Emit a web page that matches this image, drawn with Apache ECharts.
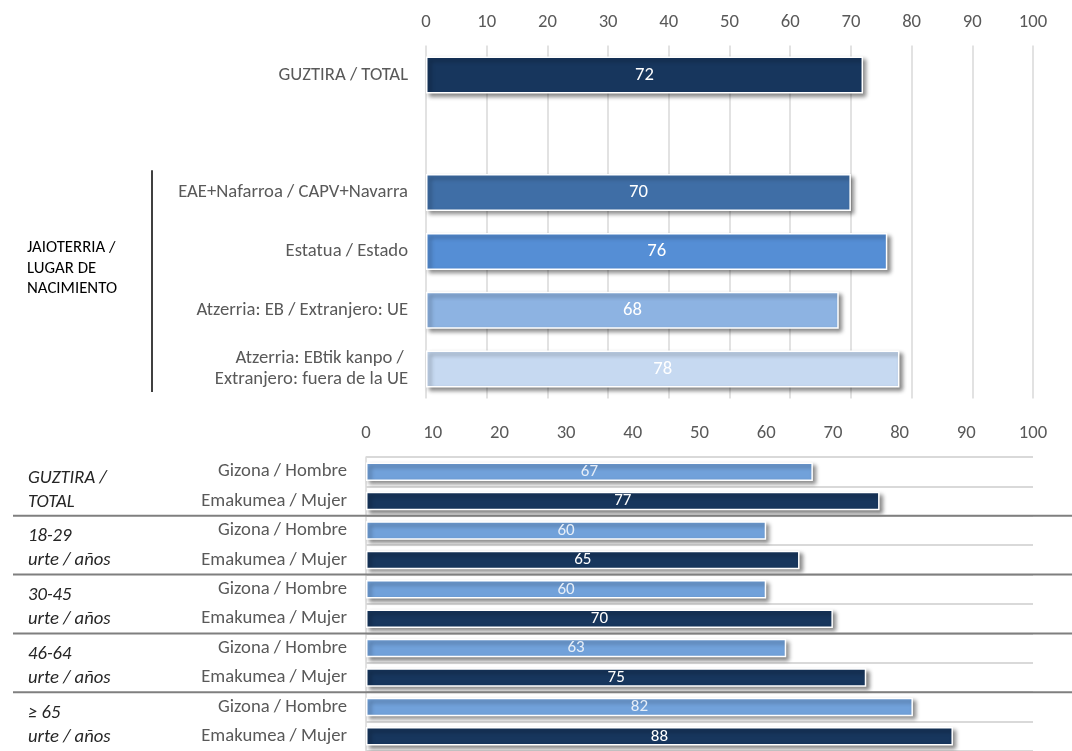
<!DOCTYPE html>
<html>
<head>
<meta charset="utf-8">
<script src="https://cdn.jsdelivr.net/npm/echarts@6/dist/echarts.min.js"></script>
<style>
html,body{margin:0;padding:0;background:#fff;}
#chart{width:1072px;height:751px;}
</style>
</head>
<body>
<div id="chart"></div>
<script>
// ---- data ----
const axisTicks = [0, 10, 20, 30, 40, 50, 60, 70, 80, 90, 100];
const topCategories = ['GUZTIRA / TOTAL', '', 'EAE+Nafarroa / CAPV+Navarra', 'Estatua / Estado', 'Atzerria: EB / Extranjero: UE', 'Atzerria: EBtik kanpo / \nExtranjero: fuera de la UE'];
const topValues = [72, null, 70, 76, 68, 78];
const topGroupLabel = 'JAIOTERRIA /\nLUGAR DE\nNACIMIENTO';
const ageGroups = ['GUZTIRA /\nTOTAL', '18-29\nurte / años', '30-45\nurte / años', '46-64\nurte / años', '≥ 65\nurte / años'];
const genders = ['Gizona / Hombre', 'Emakumea / Mujer'];
const maleValues = [67, 60, 60, 63, 82];
const femaleValues = [77, 65, 70, 75, 88];

// ---- styles ----
const topColors = ['#17365d', '#17365d', '#3f6ea6', '#558ed5', '#8db3e2', '#c6d9f1'];
const maleColor = '#71a1da';
const femaleColor = '#17365d';
const FONT = 'Carlito, Lato, sans-serif';
const FS = 18.67;

const bottomCategories = [];
const bottomData = [];
ageGroups.forEach((g, i) => {
  bottomCategories.push(genders[0]);
  bottomCategories.push(genders[1]);
  bottomData.push({ value: maleValues[i], itemStyle: { color: maleColor }, label: { color: '#e6eef8' } });
  bottomData.push({ value: femaleValues[i], itemStyle: { color: femaleColor } });
});

const barStyle = {
  borderColor: '#ffffff',
  borderWidth: 1.5,
  shadowColor: 'rgba(0,0,0,0.45)',
  shadowBlur: 4,
  shadowOffsetX: 3,
  shadowOffsetY: 3
};

const chart = echarts.init(document.getElementById('chart'), null, { renderer: 'canvas' });
const option = {
  animation: false,
  backgroundColor: '#ffffff',
  textStyle: { fontFamily: FONT },
  grid: [
    { left: 426, right: 39, top: 45.5, height: 353 },
    { left: 366, right: 39, top: 457, height: 300 }
  ],
  xAxis: [
    {
      gridIndex: 0, type: 'value', position: 'top', min: 0, max: 100, interval: 10,
      axisLine: { show: false }, axisTick: { show: false },
      axisLabel: { color: '#595959', fontSize: FS, fontFamily: FONT, margin: 14 },
      splitLine: { show: true, lineStyle: { color: '#d9d9d9', width: 1.5 } }
    },
    {
      gridIndex: 1, type: 'value', position: 'top', min: 0, max: 100, interval: 10,
      axisLine: { show: false }, axisTick: { show: false },
      axisLabel: { color: '#595959', fontSize: FS, fontFamily: FONT, margin: 14 },
      splitLine: { show: false }
    }
  ],
  yAxis: [
    {
      gridIndex: 0, type: 'category', inverse: true, data: topCategories,
      axisLine: { show: false }, axisTick: { show: false },
      axisLabel: { color: '#595959', fontSize: FS, fontFamily: FONT, margin: 18, lineHeight: 21, align: 'right' },
      splitLine: { show: false }
    },
    {
      gridIndex: 1, type: 'category', inverse: true, data: bottomCategories,
      axisLine: { show: true, lineStyle: { color: '#d9d9d9', width: 1.5 } }, axisTick: { show: false },
      axisLabel: { color: '#595959', fontSize: FS, fontFamily: FONT, margin: 19, padding: [2, 0, 0, 0] },
      splitLine: { show: true, lineStyle: { color: '#d9d9d9', width: 2 } }
    }
  ],
  series: [
    {
      type: 'bar', xAxisIndex: 0, yAxisIndex: 0, barWidth: '63%',
      data: topValues.map((v, i) => ({ value: v, itemStyle: { color: topColors[i] } })),
      itemStyle: barStyle,
      label: { show: true, position: 'inside', color: '#ffffff', fontSize: FS, fontFamily: FONT }
    },
    {
      type: 'bar', xAxisIndex: 1, yAxisIndex: 1, barWidth: '63%',
      data: bottomData,
      itemStyle: barStyle,
      label: { show: true, position: 'inside', color: '#ffffff', fontSize: 17, fontFamily: FONT }
    }
  ]
};
chart.setOption(option);

// ---- decorations positioned from the axes ----
const c0 = chart.convertToPixel({ yAxisIndex: 0 }, 0);
const c1 = chart.convertToPixel({ yAxisIndex: 0 }, 1);
const topBand = c1 - c0;
const gStart = chart.convertToPixel({ yAxisIndex: 0 }, 2);
const gEnd = chart.convertToPixel({ yAxisIndex: 0 }, 5);

const b0 = chart.convertToPixel({ yAxisIndex: 1 }, 0);
const b1 = chart.convertToPixel({ yAxisIndex: 1 }, 1);
const band = b1 - b0;

const graphics = [];
graphics.push({
  type: 'line', silent: true,
  shape: { x1: 152, y1: gStart - topBand * 0.38, x2: 152, y2: gEnd + topBand * 0.39 },
  style: { stroke: '#000000', lineWidth: 1.5 }
});
graphics.push({
  type: 'text', silent: true, left: 27, top: (gStart + gEnd) / 2 - 43,
  style: { text: topGroupLabel, fill: '#000000', font: '16.8px ' + FONT, lineHeight: 20.5 }
});
ageGroups.forEach((g, i) => {
  const yTop = b0 - band / 2 + i * 2 * band;
  if (i > 0) {
    graphics.push({
      type: 'line', silent: true, z: 10,
      shape: { x1: 13, y1: yTop, x2: 1072, y2: yTop },
      style: { stroke: '#7f7f7f', lineWidth: 2 }
    });
  }
  graphics.push({
    type: 'text', silent: true, left: 28, top: yTop + 9,
    style: { text: g, fill: '#262626', font: 'italic 18.67px ' + FONT, lineHeight: 24 }
  });
});
chart.setOption({ graphic: graphics });
</script>
</body>
</html>
